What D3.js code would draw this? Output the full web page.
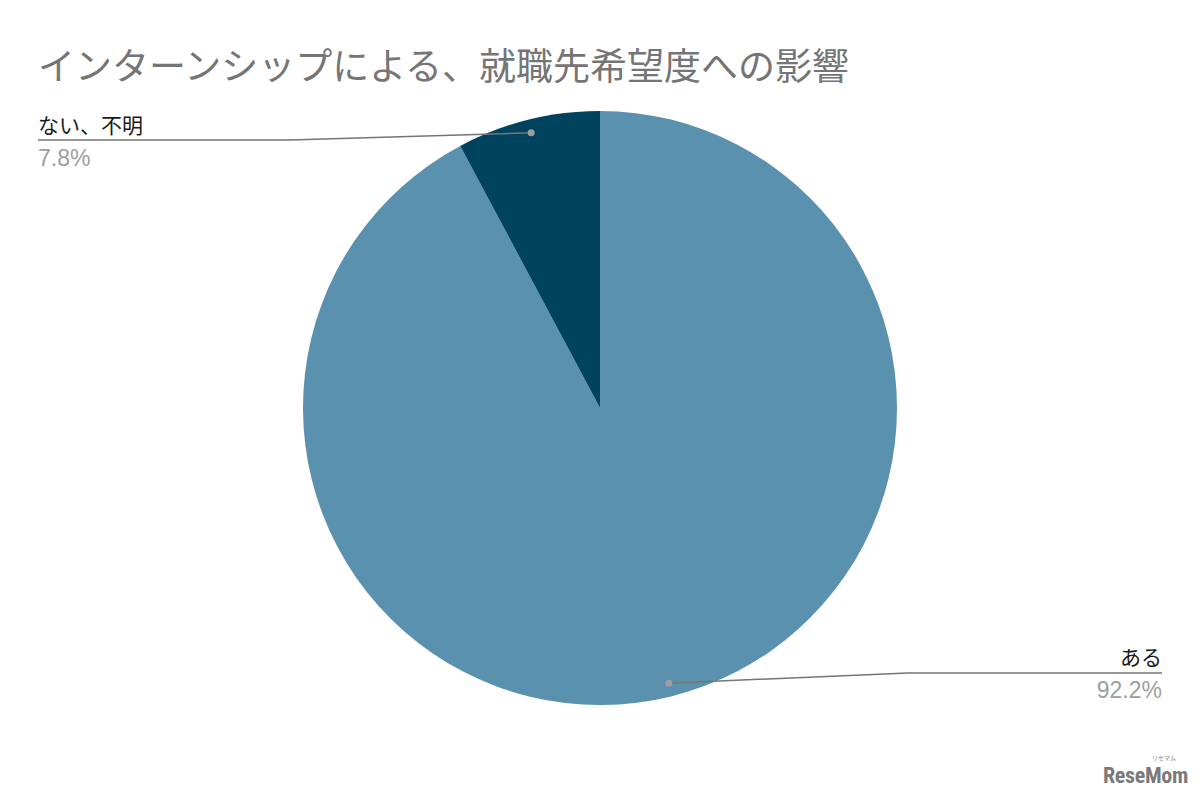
<!DOCTYPE html>
<html><head><meta charset="utf-8">
<script src="https://cdn.jsdelivr.net/npm/d3@7"></script>
<style>body{margin:0;background:#fff;} text{font-family:"Noto Sans CJK JP","Noto Sans",sans-serif;}</style>
</head><body>
<svg id="c" width="1203" height="793"></svg>
<script>
const title = "インターンシップによる、就職先希望度への影響";
const categories = ["ある", "ない、不明"];
const values = [92.2, 7.8];
const colors = ["#5a91ae", "#00435f"];

const svg = d3.select("#c");
svg.append("rect").attr("width",1203).attr("height",793).attr("fill","#fff");
svg.append("text").attr("x",38).attr("y",80).attr("font-size",37).attr("fill","#757575").text(title);

const cx=600, cy=408, R=297;
const g = svg.append("g").attr("transform",`translate(${cx},${cy})`);
const pie = d3.pie().sort(null).value(d=>d)(values);
const arc = d3.arc().innerRadius(0).outerRadius(R);
g.selectAll("path").data(pie).join("path").attr("d",arc).attr("fill",(d,i)=>colors[i]);

const dotArc = d3.arc().innerRadius(R*0.955).outerRadius(R*0.955);
const labelCfg = [
  {side:"right", lineY:673, endX:1162, bendX:908, textY:665, pctY:698},
  {side:"left",  lineY:140, endX:38,  bendX:290, textY:133, pctY:166}
];
pie.forEach((d,i)=>{
  const [px,py] = dotArc.centroid(d);
  const c = labelCfg[i];
  const x0 = cx+px, y0 = cy+py;
  svg.append("path").attr("d",`M${x0},${y0}L${c.bendX},${c.lineY}L${c.endX},${c.lineY}`)
    .attr("fill","none").attr("stroke","#757575").attr("stroke-width",1.5);
  svg.append("circle").attr("cx",x0).attr("cy",y0).attr("r",3.5).attr("fill","#9e9e9e");
  const anchor = c.side==="right"?"end":"start";
  svg.append("text").attr("x",c.endX).attr("y",c.textY).attr("text-anchor",anchor)
    .attr("font-size",21).attr("fill","#1a1a1a").text(categories[i]);
  svg.append("text").attr("x",c.endX).attr("y",c.pctY).attr("text-anchor",anchor)
    .attr("font-size",23).attr("fill","#9e9e9e").style("font-family","'Liberation Sans',Arial,sans-serif")
    .text(d3.format(".1f")(values[i])+"%");
});

// logo
svg.append("text").attr("x",1188).attr("y",783).attr("text-anchor","end").attr("font-size",22)
  .attr("font-weight","bold").attr("fill","#7a7a7a").style("font-family","'Liberation Sans Narrow','Roboto Condensed',Roboto,sans-serif").attr("letter-spacing",-0.3).text("ReseMom");
svg.append("text").attr("x",1176).attr("y",760).attr("text-anchor","end").attr("font-size",6).attr("fill","#888").text("リセマム");
</script>
</body></html>
